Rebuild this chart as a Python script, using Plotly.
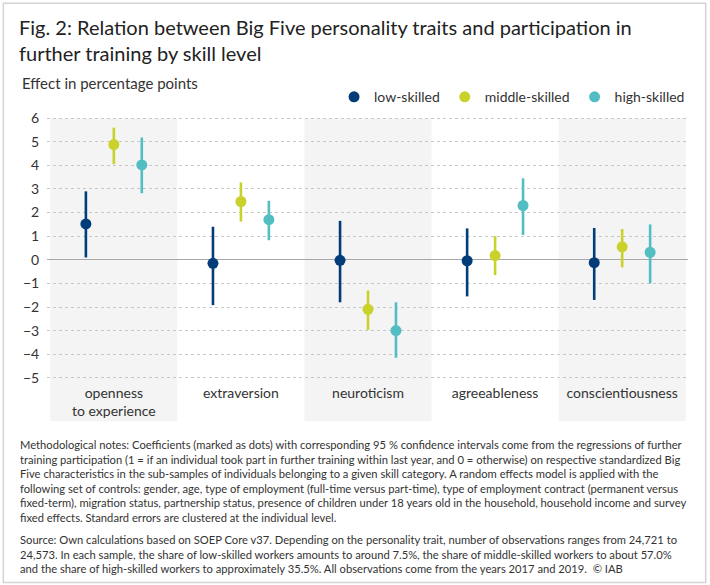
import plotly.graph_objects as go

traits = ['openness<br>to experience', 'extraversion', 'neuroticism',
          'agreeableness', 'conscientiousness']
groups = ['low-skilled', 'middle-skilled', 'high-skilled']
colors = ['#023d7a', '#c9d22a', '#52bec3']

# point estimates and 95 % CI bounds, percentage points
low_est = [1.52, -0.15, -0.02, -0.04, -0.12]
low_lo = [0.10, -1.92, -1.80, -1.55, -1.70]
low_hi = [2.90, 1.40, 1.65, 1.33, 1.35]

mid_est = [4.88, 2.47, -2.10, 0.18, 0.55]
mid_lo = [4.05, 1.62, -2.97, -0.65, -0.32]
mid_hi = [5.60, 3.28, -1.30, 1.00, 1.30]

high_est = [4.02, 1.70, -3.00, 2.30, 0.32]
high_lo = [2.82, 0.83, -4.15, 1.05, -1.00]
high_hi = [5.18, 2.50, -1.80, 3.45, 1.50]

y_ticks = list(range(-5, 7))

series = [(low_est, low_lo, low_hi), (mid_est, mid_lo, mid_hi), (high_est, high_lo, high_hi)]
offsets = [-0.22, 0, 0.22]

# plot area in pixels
W_FIG, H_FIG = 710, 585
L, R = 46.7, 688.3
T, B = 116.8, 379.2
PW, PH = R - L, B - T

def px_x(p):
    return (p - L) / PW

def px_y(p):
    return (B - p) / PH

FONT = 'Lato'

fig = go.Figure()

for i, (est, lo, hi) in enumerate(series):
    xs = [k + offsets[i] for k in range(len(traits))]
    fig.add_trace(go.Scatter(
        x=xs, y=est, mode='markers', name=groups[i],
        marker=dict(color=colors[i], size=11),
        error_y=dict(type='data', symmetric=False,
                     array=[h - e for h, e in zip(hi, est)],
                     arrayminus=[e - l for e, l in zip(est, lo)],
                     color=colors[i], thickness=2.6, width=0),
    ))

# shaded bands behind every other trait
for k in range(0, len(traits), 2):
    fig.add_shape(type='rect', xref='x', yref='paper',
                  x0=k - 0.5, x1=k + 0.5, y0=px_y(421.5), y1=px_y(118),
                  fillcolor='#f4f4f4', line_width=0, layer='below')

# outer frame
fig.add_shape(type='rect', xref='paper', yref='paper',
              x0=px_x(3), x1=px_x(706), y0=px_y(583), y1=px_y(3),
              line=dict(color='#d4d4d4', width=1.5), fillcolor='rgba(0,0,0,0)')

notes = ('Methodological notes: Coefficients (marked as dots) with corresponding 95 % confidence intervals come from the regressions of further<br>'
         'training participation (1 = if an individual took part in further training within last year, and 0 = otherwise) on respective standardized Big<br>'
         'Five characteristics in the sub-samples of individuals belonging to a given skill category. A random effects model is applied with the<br>'
         'following set of controls: gender, age, type of employment (full-time versus part-time), type of employment contract (permanent versus<br>'
         'fixed-term), migration status, partnership status, presence of children under 18 years old in the household, household income and survey<br>'
         'fixed effects. Standard errors are clustered at the individual level.')
source = ('Source: Own calculations based on SOEP Core v37. Depending on the personality trait, number of observations ranges from 24,721 to<br>'
          '24,573. In each sample, the share of low-skilled workers amounts to around 7.5%, the share of middle-skilled workers to about 57.0%<br>'
          'and the share of high-skilled workers to approximately 35.5%. All observations come from the years 2017 and 2019.  © IAB')

fig.add_annotation(text='Effect in percentage points', xref='paper', yref='paper',
                   x=px_x(20), y=px_y(83), xanchor='left', yanchor='middle',
                   showarrow=False, font=dict(family=FONT, size=15, color='#333333'))
fig.add_annotation(text=notes, xref='paper', yref='paper', align='left',
                   x=px_x(18), y=px_y(436), xanchor='left', yanchor='top',
                   showarrow=False, font=dict(family=FONT, size=11.2, color='#333333'))
fig.add_annotation(text=source, xref='paper', yref='paper', align='left',
                   x=px_x(18), y=px_y(531), xanchor='left', yanchor='top',
                   showarrow=False, font=dict(family=FONT, size=11.2, color='#333333'))

fig.update_layout(
    width=W_FIG, height=H_FIG,
    margin=dict(l=L, r=W_FIG - R, t=T, b=H_FIG - B, pad=0),
    paper_bgcolor='white', plot_bgcolor='rgba(0,0,0,0)',
    font=dict(family=FONT, color='#333333'),
    title=dict(text='Fig. 2: Relation between Big Five personality traits and participation in<br>further training by skill level',
               x=19 / W_FIG, xref='container', xanchor='left',
               y=1 - 35 / H_FIG, yref='container', yanchor='top',
               font=dict(family=FONT, size=20, color='#222222')),
    showlegend=True,
    legend=dict(orientation='h', xref='paper', yref='paper',
                x=px_x(334), y=px_y(97), xanchor='left', yanchor='middle',
                font=dict(family=FONT, size=14, color='#333333'),
                itemwidth=30, bgcolor='rgba(0,0,0,0)'),
    xaxis=dict(range=[-0.526, 4.518], tickvals=list(range(len(traits))), ticktext=traits,
               showgrid=False, zeroline=False, showline=False,
               ticks='outside', ticklen=1, tickcolor='rgba(0,0,0,0)',
               tickfont=dict(family=FONT, size=14, color='#333333')),
    yaxis=dict(range=[-5.05, 6.05], tickvals=y_ticks,
               showgrid=True, gridcolor='#c8c8c8', griddash='dot', gridwidth=1,
               zeroline=True, zerolinecolor='#a8a8a8', zerolinewidth=1,
               showline=False, ticks='outside', ticklen=4, tickcolor='rgba(0,0,0,0)',
               tickfont=dict(family=FONT, size=14, color='#333333')),
)

fig.write_html('out.html', config={'displayModeBar': False},
               post_script="document.body.style.margin='0';")
